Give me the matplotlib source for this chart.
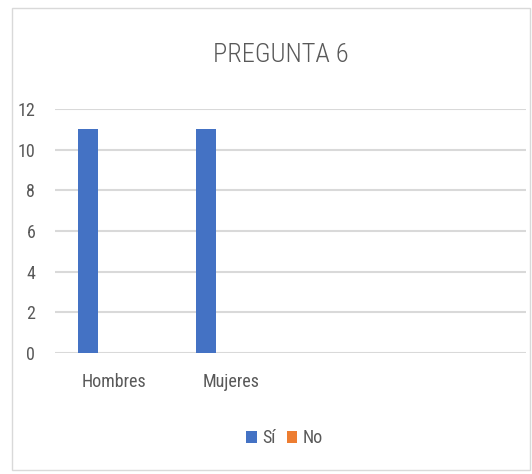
import numpy as np
import matplotlib.pyplot as plt
from matplotlib.patches import Rectangle

# Données
categorias = ['Hombres', 'Mujeres', '', '']
si = [11, 11, 0, 0]
no = [0, 0, 0, 0]
yticks = [0, 2, 4, 6, 8, 10, 12]

plt.rcParams['font.family'] = ['Roboto Condensed', 'Liberation Sans Narrow', 'Lato', 'DejaVu Sans']

fig = plt.figure(figsize=(5.32, 4.74), dpi=100)
ax = fig.add_axes([0.103, 0.255, 0.886, 0.515])

x = np.arange(len(categorias))
ancho = 0.17
ax.bar(x - 0.22, si, ancho, color='#4472C4', label='Sí', zorder=3)
ax.bar(x - 0.22 + ancho, no, ancho, color='#ED7D31', label='No', zorder=3)

ax.set_xlim(-0.5, len(categorias) - 0.5)
ax.set_ylim(0, 12)
ax.set_yticks(yticks)
ax.set_xticks(x)
ax.set_xticklabels(categorias)
ax.tick_params(axis='both', length=0, labelsize=13, colors='#595959')
ax.tick_params(axis='x', pad=14)
ax.tick_params(axis='y', pad=14)
ax.grid(axis='y', color='#D9D9D9', linewidth=1.5, zorder=0)
for s in ax.spines.values():
    s.set_visible(False)

fig.text(0.527, 0.885, 'PREGUNTA 6', ha='center', va='center',
         fontsize=19, fontweight='light', color='#595959')

fig.legend(loc='center', bbox_to_anchor=(0.535, 0.075), ncol=2, frameon=False,
           fontsize=13, labelcolor='#595959', handlelength=0.6, handleheight=0.6,
           handletextpad=0.3, columnspacing=0.6)

# Cadre du graphique
fig.patches.append(Rectangle((0.023, 0.008), 0.973, 0.975, transform=fig.transFigure,
                             fill=False, edgecolor='#D9D9D9', linewidth=1))

fig.savefig('out.png', dpi=100)
